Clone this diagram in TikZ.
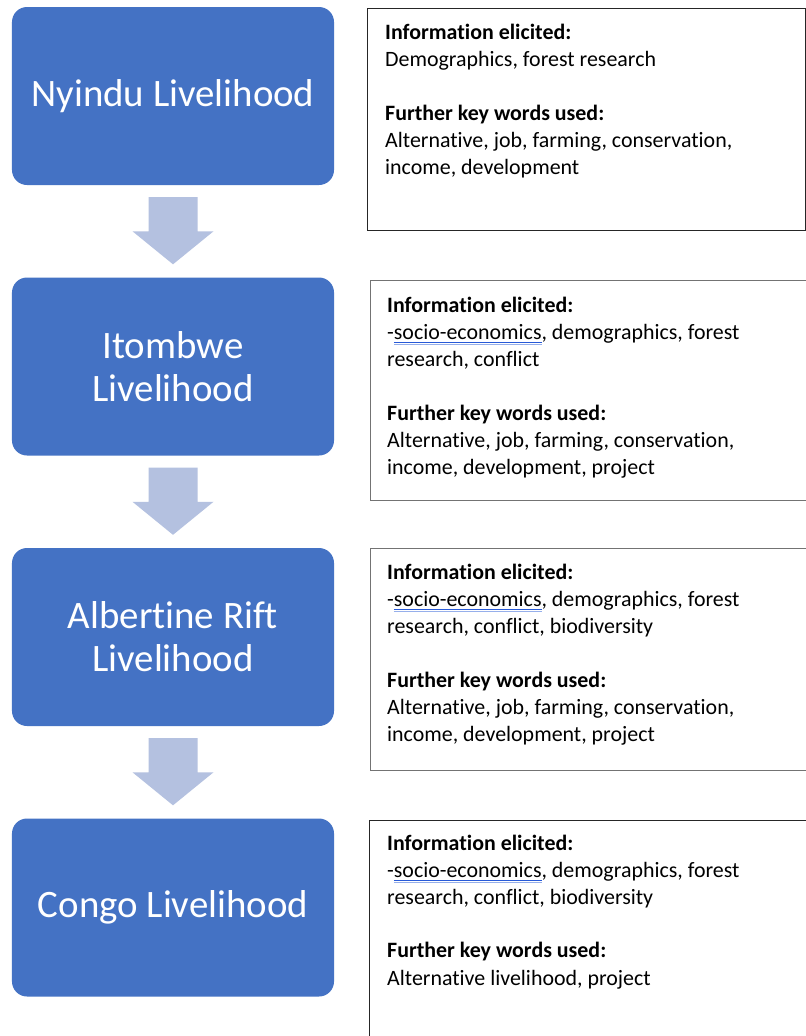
\documentclass[tikz,border=0pt]{standalone}
\usepackage{fontspec}
\setmainfont[Ligatures=NoCommon]{Carlito}
\usetikzlibrary{calc}
\definecolor{boxblue}{HTML}{4472C4}
\definecolor{arrowblue}{RGB}{180,193,224}
\definecolor{spellblue}{RGB}{40,90,215}
\definecolor{spelllight}{RGB}{150,175,235}
\newcommand\spellu[1]{\setbox0\hbox{#1}\rlap{\color{spellblue}\rule[-3.2bp]{\wd0}{1.1bp}}\rlap{\color{spelllight}\rule[-5bp]{\wd0}{0.9bp}}\box0}
\begin{document}
\begin{tikzpicture}[x=1bp,y=-1bp,
  bluebox/.style={fill=boxblue,draw=none,rounded corners=15bp,minimum width=322bp,minimum height=178bp,
     text=white,align=center,font=\fontsize{39}{43}\selectfont,inner sep=0pt},
  infobox/.style={line width=1bp},
  infotext/.style={anchor=base west,inner sep=0pt,yshift=-1.5bp,font=\fontsize{22}{26}\selectfont},
  infohead/.style={infotext,font=\fontsize{22}{26}\selectfont\bfseries},
  flowarrow/.style={fill=arrowblue,draw=none}]
\clip (0,0) rectangle (806,1036);
\useasboundingbox (0,0) rectangle (806,1036);
\fill[white] (0,0) rectangle (806,1036);

% blue boxes
\node[bluebox] (b1) at (173,96) {Nyindu Livelihood};
\node[bluebox] (b2) at (173,366.5) {Itombwe\\Livelihood};
\node[bluebox] (b3) at (173,637) {Albertine Rift\\Livelihood};
\node[bluebox] (b4) at (173,907.5) {Congo Livelihood};

% arrows
\foreach \a/\b in {b1/b2,b2/b3,b3/b4}{
  \fill[flowarrow] ($(\a.south)+(-24.5,12)$) -- ($(\a.south)+(24.5,12)$) -- ($(\b.north)+(24.5,-46)$)
    -- ($(\b.north)+(40.5,-46)$) -- ($(\b.north)+(0,-13)$) -- ($(\b.north)+(-40.5,-46)$)
    -- ($(\b.north)+(-24.5,-46)$) -- cycle;
}

% info boxes
\draw[infobox,draw=black!85] (367.5,8.5) rectangle (805.5,230.5);
\draw[infobox,draw=black!55] (370.5,280.5) rectangle (812,500.5);
\draw[infobox,draw=black!55] (370.5,548.5) rectangle (812,770.5);
\draw[infobox,draw=black!85] (369.5,820.5) rectangle (812,1050);

% box 1 text
\node[infohead] (t1a) at (385,38) {Information elicited:};
\node[infotext] (t1b) at (385,65) {Demographics, forest research};
\node[infohead] (t1c) at (385,119) {Further key words used:};
\node[infotext] (t1d) at (385,146) {Alternative, job, farming, conservation,};
\node[infotext] (t1e) at (385,173) {income, development};

% box 2 text
\node[infohead] (t2a) at (387,311) {Information elicited:};
\node[infotext] (t2b) at (387,338) {-\spellu{socio-economics}, demographics, forest};
\node[infotext] (t2c) at (387,365) {research, conflict};
\node[infohead] (t2d) at (387,419) {Further key words used:};
\node[infotext] (t2e) at (387,446) {Alternative, job, farming, conservation,};
\node[infotext] (t2f) at (387,473) {income, development, project};

% box 3 text
\node[infohead] (t3a) at (387,578) {Information elicited:};
\node[infotext] (t3b) at (387,605) {-\spellu{socio-economics}, demographics, forest};
\node[infotext] (t3c) at (387,632) {research, conflict, biodiversity};
\node[infohead] (t3d) at (387,686) {Further key words used:};
\node[infotext] (t3e) at (387,713) {Alternative, job, farming, conservation,};
\node[infotext] (t3f) at (387,740) {income, development, project};

% box 4 text
\node[infohead] (t4a) at (387,849) {Information elicited:};
\node[infotext] (t4b) at (387,876) {-\spellu{socio-economics}, demographics, forest};
\node[infotext] (t4c) at (387,903) {research, conflict, biodiversity};
\node[infohead] (t4d) at (387,956) {Further key words used:};
\node[infotext] (t4e) at (387,984) {Alternative livelihood, project};
\end{tikzpicture}
\end{document}
